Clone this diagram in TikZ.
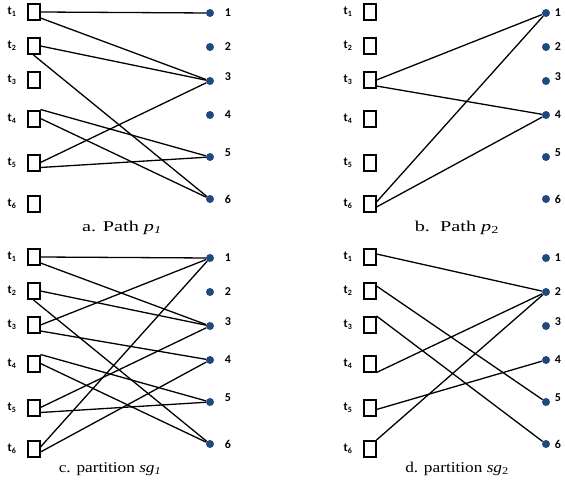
\documentclass[tikz,border=0pt]{standalone}
\usepackage{fontspec}
\setmainfont{Liberation Serif}
\newfontfamily\lblfont{Carlito}
\definecolor{dotblue}{RGB}{31,73,125}
\tikzset{
  tbox/.style={draw=black, line width=2pt, minimum width=12pt, minimum height=16pt, inner sep=0pt},
  tlabel/.style={font=\lblfont\bfseries\fontsize{12}{12}\selectfont, inner sep=0pt},
  dotnode/.style={circle, fill=dotblue, minimum size=8pt, inner sep=0pt},
  numlabel/.style={font=\lblfont\bfseries\fontsize{12}{12}\selectfont, inner sep=0pt},
  caption/.style={font=\fontsize{15}{15}\selectfont, inner sep=0pt},
  edge/.style={line width=1.3pt}
}
\newcommand{\drawpanel}[2]{%
  \foreach \i/\y in {1/12,2/46,3/80,4/118.5,5/162.5,6/204}{
    \node[tbox] (#1t\i) at (33.5,\y) {};
    \node[tlabel] (#1l\i) at (12,\y) {t\textsubscript{\i}};
  }
  \foreach \i/\y/\ly in {1/13/13,2/47/47,3/81/77,4/115/115,5/157/153,6/199/199}{
    \node[dotnode] (#1d\i) at (210,\y) {};
    \node[numlabel] (#1n\i) at (#2,\ly) {\i};
  }
}
\begin{document}
\begin{tikzpicture}[x=1pt,y=-1pt]
\useasboundingbox (0,0) rectangle (565,490);
% panel a
\begin{scope}
\drawpanel{a}{228}
\draw[edge] (at1.east) -- (ad1);
\draw[edge] ([yshift=-6pt]at1.east) -- (ad3);
\draw[edge] (at2.east) -- (ad3);
\draw[edge] (at2.south) -- (ad6);
\draw[edge] (at4.north east) -- (ad5);
\draw[edge] (at4.east) -- (ad6);
\draw[edge] (at5.east) -- (ad3);
\draw[edge] ([yshift=-5pt]at5.east) -- (ad5);
\node[caption] (capa) at (122,228) {\scalebox{1.35}[1]{a. Path \textit{p}\textsubscript{\textit{1}}}};
\end{scope}
% panel b
\begin{scope}[shift={(336,0)}]
\drawpanel{b}{222}
\draw[edge] (bt3.east) -- (bd1);
\draw[edge] ([yshift=-6pt]bt3.east) -- (bd4);
\draw[edge] ([yshift=2pt]bt6.east) -- (bd1);
\draw[edge] ([yshift=-3pt]bt6.east) -- (bd4);
\node[caption] (capb) at (121,228) {\scalebox{1.35}[1]{b.\ \ Path \textit{p}\textsubscript{2}}};
\end{scope}
% panel c
\begin{scope}[shift={(0,245)}]
\drawpanel{c}{228}
\draw[edge] (ct1.east) -- (cd1);
\draw[edge] ([yshift=-6pt]ct1.east) -- (cd3);
\draw[edge] (ct2.east) -- (cd3);
\draw[edge] (ct2.south) -- (cd6);
\draw[edge] (ct3.east) -- (cd1);
\draw[edge] ([yshift=-6pt]ct3.east) -- (cd4);
\draw[edge] (ct4.north east) -- (cd5);
\draw[edge] (ct4.east) -- (cd6);
\draw[edge] (ct5.east) -- (cd3);
\draw[edge] ([yshift=-5pt]ct5.east) -- (cd5);
\draw[edge] ([yshift=2pt]ct6.east) -- (cd1);
\draw[edge] ([yshift=-3pt]ct6.east) -- (cd4);
\node[caption] (capc) at (110,224) {\scalebox{1.15}[1]{c. partition \textit{sg}\textsubscript{\textit{1}}}};
\end{scope}
% panel d
\begin{scope}[shift={(336,245)}]
\drawpanel{d}{222}
\draw[edge] ([yshift=3pt]dt1.east) -- (dd2);
\draw[edge] ([yshift=5pt]dt2.east) -- (dd5);
\draw[edge] (dt3.north east) -- (dd6);
\draw[edge] (dt4.south east) -- (dd2);
\draw[edge] ([yshift=-2pt]dt5.east) -- (dd4);
\draw[edge] (dt6.north east) -- (dd2);
\node[caption] (capd) at (121,224) {\scalebox{1.15}[1]{d. partition \textit{sg}\textsubscript{2}}};
\end{scope}
\end{tikzpicture}
\end{document}
